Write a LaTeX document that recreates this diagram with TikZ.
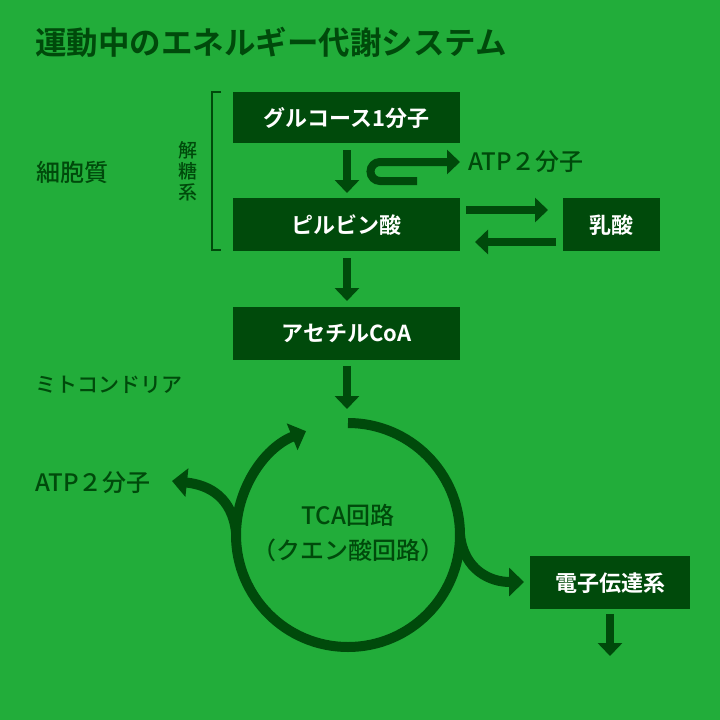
\documentclass[tikz,border=0pt]{standalone}
\usepackage{fontspec}
\setmainfont{Noto Sans CJK JP Medium}
\newfontfamily\bfj{Noto Sans CJK JP Bold}
\usetikzlibrary{arrows.meta}
\definecolor{bg}{HTML}{22AD3A}
\definecolor{dk}{HTML}{004A0B}
\tikzset{
 box/.style={fill=dk,text=white,font=\bfj\fontsize{22}{26}\selectfont,inner sep=0pt,anchor=north west},
 lbl/.style={text=dk,font=\fontsize{24}{26}\selectfont,inner sep=0pt},
 arr/.style={draw=dk,line width=8pt,-{Triangle[length=13pt,width=24pt]}},
 carr/.style={draw=dk,line width=10pt,-{Triangle[length=15pt,width=28pt]}},
}
\begin{document}
\begin{tikzpicture}[x=1pt,y=-1pt]
\fill[bg] (0,0) rectangle (720,720);
\useasboundingbox (0,0) rectangle (720,720);
\node[text=dk,font=\bfj\fontsize{31.5}{34}\selectfont,inner sep=0pt,anchor=west] (title) at (35,42) {運動中のエネルギー代謝システム};
\node[box,minimum width=227pt,minimum height=51pt] (glu) at (233,92) {グルコース1分子};
\node[box,minimum width=227pt,minimum height=53pt] (pyr) at (233,198) {ピルビン酸};
\node[box,minimum width=97pt,minimum height=53pt] (lac) at (563,198) {乳酸};
\node[box,minimum width=227pt,minimum height=53pt] (ace) at (233,307) {アセチルCoA};
\node[box,minimum width=160pt,minimum height=53pt] (etc) at (530,556) {電子伝達系};
\node[lbl,anchor=west] (atp1) at (468,162) {ATP２分子};
\node[lbl,anchor=west] (atp2) at (35,483) {ATP２分子};
\node[lbl,anchor=west] (cyto) at (36,172) {細胞質};
\node[lbl,anchor=west,font=\fontsize{21}{26}\selectfont] (mito) at (35,385) {ミトコンドリア};
\node[lbl,align=center,font=\fontsize{19}{21}\selectfont] (gly) at (188,171) {解\\糖\\系};
\node[lbl] (tca1) at (348,515) {TCA回路};
\node[lbl] (tca2) at (348,550) {（クエン酸回路）};
\draw[dk,line width=1.5pt] (221,92) -- (212,92) -- (212,250) -- (221,250);
% arrows
\draw[arr] (347,150) -- (347,193);
\draw[arr] (417,181) -- (380,181) arc[start angle=90,end angle=270,radius=9.5] -- (460,162);
\draw[arr] (466,210) -- (548,210);
\draw[arr] (556,242) -- (475,242);
\draw[arr] (347,258) -- (347,301);
\draw[arr] (347,366) -- (347,409);
\draw[arr] (610,614) -- (610,656);
% TCA circle
\draw[carr] (348,423) arc[start angle=-90,end angle=248,radius=112];
\draw[carr] (236,532) .. controls (232,498) and (210,485) .. (172,481);
\draw[carr] (460,535) .. controls (464,570) and (490,582) .. (524,582);
\end{tikzpicture}
\end{document}
